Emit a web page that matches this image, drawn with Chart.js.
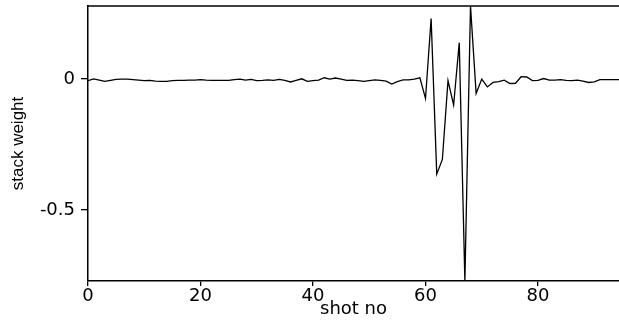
<!DOCTYPE html>
<html>
<head>
<meta charset="utf-8">
<script src="https://cdn.jsdelivr.net/npm/chart.js@4"></script>
<style>
  html, body { margin: 0; padding: 0; background: #fff; }
  #wrap { width: 619px; height: 324px; }
</style>
</head>
<body>
<div id="wrap"><canvas id="grafico" width="619" height="324"></canvas></div>
<script>
// valores
let shotNo = [];
for (let i = 0; i <= 95; i++) shotNo.push(i);

let stackWeight = [
  -0.006, 0.001, -0.004, -0.009, -0.005, -0.001, 0.000, 0.000, -0.002, -0.004,
  -0.006, -0.005, -0.008, -0.009, -0.009, -0.006, -0.005, -0.005, -0.004, -0.004,
  -0.002, -0.004, -0.005, -0.005, -0.005, -0.005, -0.002, 0.000, -0.004, -0.001,
  -0.006, -0.005, -0.003, -0.005, -0.001, -0.005, -0.011, -0.005, 0.001, -0.009,
  -0.006, -0.004, 0.005, 0.000, 0.004, 0.000, -0.005, -0.004, -0.006, -0.009,
  -0.006, -0.003, -0.005, -0.008, -0.019, -0.010, -0.003, -0.003, 0.000, 0.005,
  -0.074, 0.231, -0.363, -0.307, -0.006, -0.099, 0.139, -0.771, 0.279, -0.055,
  0.000, -0.030, -0.013, -0.010, -0.004, -0.017, -0.016, 0.009, 0.008, -0.006,
  -0.005, 0.002, -0.004, -0.004, -0.002, -0.005, -0.006, -0.004, -0.008, -0.013,
  -0.011, -0.002, -0.002, -0.002, -0.002, -0.002
];

let xTicks = [0, 20, 40, 60, 80];
let yTicks = [-0.5, 0];

let puntos = shotNo.map((x, i) => ({ x: x, y: stackWeight[i] }));

// linea superior del marco
const bordeSuperior = {
  id: "bordeSuperior",
  afterDraw(chart) {
    let ctx = chart.ctx;
    let a = chart.chartArea;
    ctx.save();
    ctx.strokeStyle = "#000";
    ctx.lineWidth = 1.5;
    ctx.beginPath();
    ctx.moveTo(a.left, a.top);
    ctx.lineTo(a.right, a.top);
    ctx.stroke();
    ctx.restore();
  }
};

new Chart(document.getElementById("grafico"), {
  type: "line",
  data: {
    datasets: [{
      data: puntos,
      borderColor: "#000",
      borderWidth: 1.3,
      pointRadius: 0,
      tension: 0,
      fill: false
    }]
  },
  options: {
    responsive: false,
    animation: false,
    layout: { padding: { top: 6, right: 0, left: 0, bottom: 0 } },
    plugins: { legend: { display: false }, tooltip: { enabled: false } },
    scales: {
      x: {
        type: "linear",
        min: 0,
        max: 94.4,
        afterBuildTicks: s => { s.ticks = xTicks.map(v => ({ value: v })); },
        afterFit: s => { s.height = 43; s.paddingLeft = 0; s.paddingRight = 0; },
        grid: { drawOnChartArea: false, drawTicks: true, tickLength: 5, color: "#000", lineWidth: 1.3 },
        border: { display: true, color: "#000", width: 1.5 },
        ticks: { color: "#000", padding: 0, maxRotation: 0, font: { family: "DejaVu Sans", size: 18 } },
        title: { display: true, text: "shot no", color: "#000", padding: { top: 0, bottom: 4 }, font: { family: "DejaVu Sans", size: 18 } }
      },
      y: {
        type: "linear",
        min: -0.771,
        max: 0.279,
        afterBuildTicks: s => { s.ticks = yTicks.map(v => ({ value: v })); },
        afterFit: s => { s.width = 88; s.paddingTop = 0; s.paddingBottom = 0; },
        grid: { drawOnChartArea: false, drawTicks: true, tickLength: 7, color: "#000", lineWidth: 1.3 },
        border: { display: true, color: "#000", width: 1.5 },
        ticks: { color: "#000", padding: 6, font: { family: "DejaVu Sans", size: 18 },
                 callback: v => (v === 0 ? "0" : String(v)) },
        title: { display: true, text: "stack weight", color: "#000", padding: { top: 8, bottom: 0 }, font: { family: "Liberation Sans", size: 17 } }
      }
    }
  },
  plugins: [bordeSuperior]
});
</script>
</body>
</html>
